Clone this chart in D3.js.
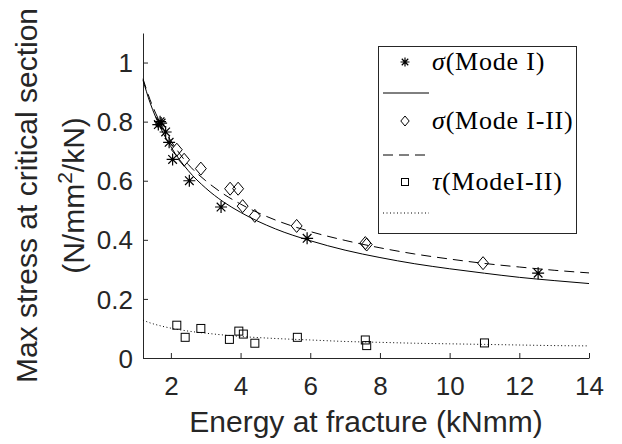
<html lang="en">
<head>
  <meta charset="UTF-8">
  <title>Max stress vs energy at fracture</title>
  <style>
    body { margin: 0; background: #fff; }
    text { font-family: "Liberation Sans", Arial, sans-serif; fill: #262626; }
    .leg text { font-family: "Liberation Serif", "Times New Roman", serif; fill: #000; }
  </style>
</head>
<body>
  <div id="chart"></div>
  <script src="https://d3js.org/d3.v7.min.js"></script>
  <script>
    // measured points
    const modeIx = [1.64, 1.69, 1.72, 1.85, 1.95, 2.05, 2.53, 3.44, 5.91, 12.54];
    const modeIy = [0.790, 0.800, 0.795, 0.765, 0.730, 0.672, 0.600, 0.511, 0.405, 0.287];

    const mixedX = [2.17, 2.38, 2.86, 3.70, 3.93, 4.06, 4.41, 5.61, 7.58, 7.62, 10.96];
    const mixedY = [0.705, 0.671, 0.641, 0.573, 0.573, 0.514, 0.481, 0.447, 0.389, 0.384, 0.321];

    const tauX = [2.17, 2.41, 2.86, 3.68, 3.95, 4.08, 4.41, 5.63, 7.58, 7.62, 11.0];
    const tauY = [0.111, 0.070, 0.100, 0.063, 0.091, 0.081, 0.050, 0.070, 0.061, 0.042, 0.051];

    // fitted curves
    const fitX = [1.2, 1.4, 1.7, 2, 2.5, 3, 3.5, 4, 5, 6, 7, 8, 9, 10, 11, 12, 13, 14];
    const fitModeI = [0.940, 0.865, 0.780, 0.715, 0.634, 0.575, 0.529, 0.493, 0.437, 0.397, 0.365, 0.340, 0.319, 0.302, 0.287, 0.273, 0.262, 0.252];
    const fitMixed = [0.945, 0.875, 0.795, 0.735, 0.655, 0.600, 0.556, 0.521, 0.467, 0.428, 0.398, 0.373, 0.352, 0.335, 0.320, 0.308, 0.297, 0.288];
    const fitTau = [0.128, 0.119, 0.109, 0.101, 0.091, 0.084, 0.078, 0.073, 0.066, 0.061, 0.056, 0.053, 0.050, 0.048, 0.046, 0.044, 0.042, 0.041];

    const xTicks = [2, 4, 6, 8, 10, 12, 14];
    const yTicks = [0, 0.2, 0.4, 0.6, 0.8, 1];
    const legendLabels = [["σ", "(Mode I)"], ["σ", "(Mode I-II)"], ["τ", "(ModeI-II)"]];

    const w = 622, h = 444;
    const m = { left: 143, right: 589, top: 33, bottom: 358 };

    const svg = d3.select("#chart").append("svg")
      .attr("width", w)
      .attr("height", h);

    const xScale = d3.scaleLinear().domain([1.2, 14]).range([m.left, m.right]);
    const yScale = d3.scaleLinear().domain([0, 1.1]).range([m.bottom, m.top]);

    // axes, ticks inside like matlab
    const xAxis = d3.axisBottom(xScale).tickValues(xTicks).tickSize(-5).tickPadding(0).tickSizeOuter(0);
    const yAxis = d3.axisLeft(yScale).tickValues(yTicks).tickSize(-5).tickSizeOuter(0)
      .tickFormat(d => d === 0 || d === 1 ? d : d.toFixed(1));

    const gx = svg.append("g")
      .attr("transform", "translate(0," + m.bottom + ")")
      .call(xAxis);
    gx.selectAll("text").attr("font-size", 26).attr("dy", null).attr("y", 37).attr("fill", "#262626");

    const gy = svg.append("g")
      .attr("transform", "translate(" + m.left + ",0)")
      .call(yAxis);
    gy.selectAll("text").attr("font-size", 26).attr("x", -10).attr("dy", "0.35em").attr("fill", "#262626");

    svg.selectAll(".domain, .tick line").attr("stroke", "#262626");

    // axis titles
    svg.append("text")
      .attr("x", (m.left + m.right) / 2)
      .attr("y", 432)
      .attr("text-anchor", "middle")
      .attr("font-size", 30)
      .text("Energy at fracture (kNmm)");

    const cy = (m.top + m.bottom) / 2;
    svg.append("text")
      .attr("transform", "translate(37," + cy + ") rotate(-90)")
      .attr("text-anchor", "middle")
      .attr("font-size", 30)
      .text("Max stress at critical section");

    const yl2 = svg.append("text")
      .attr("transform", "translate(84," + cy + ") rotate(-90)")
      .attr("text-anchor", "middle")
      .attr("font-size", 30);
    yl2.append("tspan").text("(N/mm");
    yl2.append("tspan").attr("font-size", 21).attr("dy", -12).text("2");
    yl2.append("tspan").attr("dy", 12).text("/kN)");

    // fit lines
    const line = d3.line()
      .x(d => xScale(d[0]))
      .y(d => yScale(d[1]))
      .curve(d3.curveMonotoneX);

    const fits = [
      { ys: fitModeI, dash: null },
      { ys: fitMixed, dash: "10,6" },
      { ys: fitTau, dash: "1,2.5" }
    ];
    fits.forEach(f => {
      svg.append("path")
        .datum(fitX.map((x, i) => [x, f.ys[i]]))
        .attr("d", line)
        .attr("fill", "none")
        .attr("stroke", "#000")
        .attr("stroke-width", 1)
        .attr("stroke-dasharray", f.dash);
    });

    // marker drawers
    function star(g, s) {
      const r = s / 2, q = r * 0.72;
      g.append("path")
        .attr("d", "M" + (-r) + ",0H" + r + "M0," + (-r) + "V" + r +
          "M" + (-q) + "," + (-q) + "L" + q + "," + q + "M" + (-q) + "," + q + "L" + q + "," + (-q))
        .attr("stroke", "#000").attr("stroke-width", 1.2).attr("fill", "none");
    }
    function diamond(g, s) {
      const rx = s * 0.42, ry = s / 2;
      g.append("path")
        .attr("d", "M0," + (-ry) + "L" + rx + ",0L0," + ry + "L" + (-rx) + ",0Z")
        .attr("stroke", "#000").attr("stroke-width", 1).attr("fill", "none");
    }
    function square(g, s) {
      g.append("rect")
        .attr("x", -s / 2).attr("y", -s / 2).attr("width", s).attr("height", s)
        .attr("stroke", "#000").attr("stroke-width", 1).attr("fill", "none");
    }

    modeIx.forEach((x, i) => {
      star(svg.append("g").attr("transform", "translate(" + xScale(x) + "," + yScale(modeIy[i]) + ")"), 12);
    });
    mixedX.forEach((x, i) => {
      diamond(svg.append("g").attr("transform", "translate(" + xScale(x) + "," + yScale(mixedY[i]) + ")"), 13);
    });
    tauX.forEach((x, i) => {
      square(svg.append("g").attr("transform", "translate(" + xScale(x) + "," + yScale(tauY[i]) + ")"), 8);
    });

    // legend
    const leg = svg.append("g").attr("class", "leg");
    leg.append("rect")
      .attr("x", 378.5).attr("y", 46.5).attr("width", 198).attr("height", 187)
      .attr("fill", "#fff").attr("stroke", "#262626").attr("stroke-width", 1);

    const legRows = [62, 121, 182];
    const legLines = [93, 155, 213];
    const drawers = [s => star(s, 9), s => diamond(s, 10), s => square(s, 7)];
    legendLabels.forEach((lab, i) => {
      drawers[i](leg.append("g").attr("transform", "translate(405," + legRows[i] + ")"));
      const t = leg.append("text")
        .attr("x", 432).attr("y", legRows[i] + 8)
        .attr("font-size", 26)
        .attr("letter-spacing", 0.8);
      t.append("tspan").attr("font-style", "italic").text(lab[0]);
      t.append("tspan").text(lab[1]);
      leg.append("line")
        .attr("x1", 383).attr("x2", 429)
        .attr("y1", legLines[i]).attr("y2", legLines[i])
        .attr("stroke", "#000").attr("stroke-width", 1)
        .attr("stroke-dasharray", fits[i].dash);
    });
  </script>
</body>
</html>
